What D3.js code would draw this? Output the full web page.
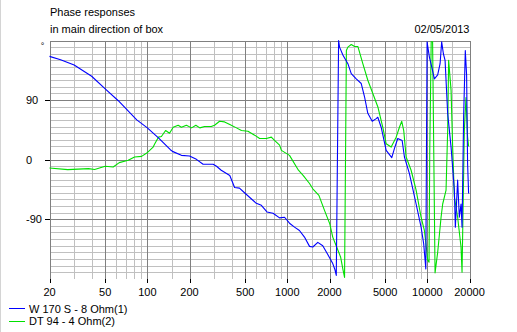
<!DOCTYPE html>
<html>
<head>
<meta charset="utf-8">
<script src="https://cdn.jsdelivr.net/npm/d3@7"></script>
<style>
  html, body { margin: 0; padding: 0; background: #fff; }
  svg { display: block; }
  text { font-family: "Liberation Sans", Arial, sans-serif; font-size: 11px; fill: #000; }
</style>
</head>
<body>
<svg id="chart" width="517" height="332"></svg>
<script>
// ---- data ----
const titleLines = ["Phase responses", "in main direction of box"];
const dateLabel = "02/05/2013";
const seriesNames = ["W 170 S - 8 Ohm(1)", "DT 94 - 4 Ohm(2)"];
const seriesColors = ["#0000ff", "#00e000"];

const xTickValues = [20, 50, 100, 200, 500, 1000, 2000, 5000, 10000, 20000];
const xMinorGrid = [30, 40, 60, 70, 80, 90, 150, 300, 400, 600, 700, 800, 900, 1500,
                    3000, 4000, 6000, 7000, 8000, 9000, 15000];
const yTickValues = [90, 0, -90];
const yUnit = "°";

const blueFreq = [20, 24, 30, 40, 50, 62, 84, 100, 120, 146, 151, 175, 200, 224, 250, 295, 312, 337, 388, 420,
  455, 494, 600, 652, 715, 790, 880, 955, 1036, 1125, 1220, 1325, 1440, 1520, 1650, 1790, 1940, 2110, 2186,
  2236, 2323, 2360, 2492, 2706, 2860, 3104, 3371, 3558, 3756, 4038, 4312, 4426, 4678, 5080, 5570, 5822, 6146,
  6606, 6860, 7446, 8312, 9020, 9414, 9634, 9750, 9954, 10340, 10808, 11224, 11852, 12328, 12656, 13016, 13384,
  13966, 14768, 15588, 15846, 16456, 16920, 17398, 17690, 18158, 18666, 19070, 19384, 19706];
const bluePhase = [156, 151, 143, 126, 107, 89, 60, 48, 33, 15, 12.5, 6.5, 5.4, 0.5, -7, -7, -10, -16, -24, -42,
  -43, -50, -66, -69, -79, -81, -88, -87, -96, -102, -107, -117, -131, -132, -125, -130, -143, -157, -166,
  -175, 180, 170, 158, 145, 130, 122, 115, 95, 70, 58, 62, 64, 49, 14, 3, 17, 32,
  29, 4, -21, -67, -102, -127, -152, -165, 178, 155, 138, 122, 128, 145, 178, 160, 150,
  70, 19, -46, -102, -31, -87, -67, -102, 64, 165, 128, -6, -51];

const greenFreq = [20, 27, 38, 42, 50, 57, 63, 73, 81, 91, 99, 110, 113, 120, 126, 135, 144, 153, 166, 175,
  190, 207, 222, 237, 256, 286, 302, 328, 356, 388, 433, 470, 523, 584, 634, 708, 768, 810, 880, 907, 1036,
  1200, 1300, 1440, 1520, 1680, 1845, 2010, 2110, 2250, 2400, 2500, 2562, 2640, 2706, 2860, 3020, 3188,
  3460, 3756, 4078, 4426, 4802, 5080, 5514, 5988, 6318, 6562, 6780, 7054, 7656, 8312, 9020, 9524, 9892,
  10056, 10280, 10400, 10650, 10900, 11350, 11852, 12530, 12870, 13600, 13966, 14190, 14768, 15160, 15588,
  16456, 17398, 17690, 18370, 18880, 19384, 19706];
const greenPhase = [-12.7, -15, -13.6, -15, -10, -11, -4.5, -1, 4, 5, 10, 19, 24, 34, 35, 44, 40, 49, 52, 49,
  52, 48, 52, 48, 50, 50, 52, 58, 57, 53, 48, 44, 43, 37, 32, 32, 34, 29, 22, 14, 6.5,
  -16, -24, -36, -44, -54, -77, -97, -117, -132, -147, -167, -178, 165, 170, 174, 171, 171,
  145, 120, 100, 80, 49, 24, 19, 34, 49, 58, 44, 4, -16, -46, -87, -107, -137,
  -152, -155, 10, 178, 178, -171, -140, -87, -67, -46, 44, 150, 105, 19, -56,
  -87, -132, -170, 44, 94, 34, 20];

// ---- layout ----
const svg = d3.select("#chart");
const x = d3.scaleLog().domain([20, 20000]).range([49.5, 469.5]);
const y = d3.scaleLinear().domain([-180, 180]).range([278.8, 40.5]);
const gridBottom = 279;
const tickBottom = 283;
const minorColor = "#c0c0c0";
const majorColor = "#808080";

// left frame line of the image
svg.append("line").attr("x1", 0.5).attr("x2", 0.5).attr("y1", 0).attr("y2", 332)
  .attr("stroke", "#d4d4d4");

const grid = svg.append("g").attr("shape-rendering", "crispEdges");

// horizontal minor grid (every 10 degrees)
const hLines = d3.range(-170, 181, 10);
grid.selectAll("line.hmin").data(hLines.filter(d => d % 90 !== 0)).join("line")
  .attr("x1", x(20)).attr("x2", x(20000))
  .attr("y1", d => Math.round(y(d)) + 0.5).attr("y2", d => Math.round(y(d)) + 0.5)
  .attr("stroke", minorColor);

// vertical minor grid
grid.selectAll("line.vmin").data(xMinorGrid).join("line")
  .attr("x1", d => Math.round(x(d)) + 0.5).attr("x2", d => Math.round(x(d)) + 0.5)
  .attr("y1", y(180)).attr("y2", gridBottom)
  .attr("stroke", minorColor);

// horizontal major grid
grid.selectAll("line.hmaj").data([90, 0, -90, 180]).join("line")
  .attr("x1", d => d === 180 ? x(20) : x(20) - 5).attr("x2", x(20000))
  .attr("y1", d => Math.round(y(d)) + 0.5).attr("y2", d => Math.round(y(d)) + 0.5)
  .attr("stroke", majorColor);

// vertical major grid + ticks
grid.selectAll("line.vmaj").data(xTickValues).join("line")
  .attr("x1", d => Math.round(x(d)) + 0.5).attr("x2", d => Math.round(x(d)) + 0.5)
  .attr("y1", y(180)).attr("y2", tickBottom)
  .attr("stroke", majorColor);
// darker tick stubs below plot
grid.selectAll("line.vtick").data(xTickValues).join("line")
  .attr("x1", d => Math.round(x(d)) + 0.5).attr("x2", d => Math.round(x(d)) + 0.5)
  .attr("y1", gridBottom).attr("y2", tickBottom)
  .attr("stroke", "#000");
grid.selectAll("line.ytick").data(yTickValues).join("line")
  .attr("x1", x(20) - 5).attr("x2", x(20))
  .attr("y1", d => Math.round(y(d)) + 0.5).attr("y2", d => Math.round(y(d)) + 0.5)
  .attr("stroke", "#000");

// x labels
svg.selectAll("text.xl").data(xTickValues).join("text")
  .attr("x", d => x(d)).attr("y", 296)
  .attr("text-anchor", "middle")
  .text(d => d);

// y labels (left aligned)
svg.selectAll("text.yl").data(yTickValues).join("text")
  .attr("x", 26).attr("y", d => y(d) + 4)
  .text(d => d);
svg.append("text").attr("x", 42.5).attr("y", 49).attr("text-anchor", "middle")
  .style("font-size", "9px").text(yUnit);

// titles
svg.selectAll("text.title").data(titleLines).join("text")
  .attr("x", 50).attr("y", (d, i) => 16 + i * 16.5)
  .text(d => d);
svg.append("text").attr("x", 469.5).attr("y", 32.5).attr("text-anchor", "end").text(dateLabel);

// curves
const plot = svg.append("g");
const line = d3.line().x(d => x(d[0])).y(d => y(d[1]));
const series = [
  d3.zip(blueFreq, bluePhase),
  d3.zip(greenFreq, greenPhase)
];
plot.selectAll("path.curve").data(series).join("path")
  .attr("d", line)
  .attr("fill", "none")
  .attr("stroke", (d, i) => seriesColors[i])
  .attr("stroke-width", 1.1)
  .attr("stroke-linejoin", "round");
// draw blue on top
plot.selectAll("path").filter((d, i) => i === 0).raise();

// legend
const leg = svg.selectAll("g.leg").data(seriesNames).join("g")
  .attr("transform", (d, i) => `translate(0, ${i * 12.5})`);
leg.append("line").attr("x1", 9).attr("x2", 25).attr("y1", 308.5).attr("y2", 308.5)
  .attr("stroke", (d, i) => seriesColors[i]).attr("shape-rendering", "crispEdges");
leg.append("text").attr("x", 29).attr("y", 312.5).text(d => d);
</script>
</body>
</html>
